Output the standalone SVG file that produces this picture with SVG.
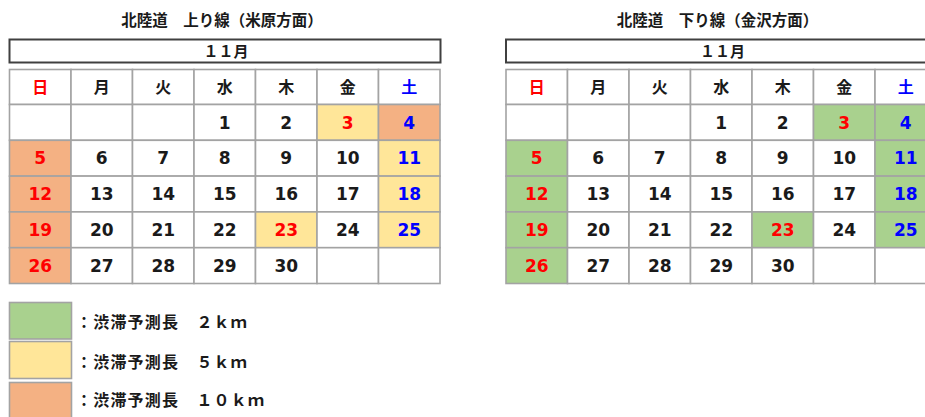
<svg xmlns="http://www.w3.org/2000/svg" width="925" height="417" viewBox="0 0 925 417">
<style>
.bg{fill:#ffffff}
.c{fill:#ffffff;stroke:#a3a3a3;stroke-width:1.6}
.y{fill:#ffe699}
.o{fill:#f4b183}
.g{fill:#a9d18e}
.mb{fill:#ffffff;stroke:#404040;stroke-width:2}
.jp{font-family:"Noto Sans CJK JP","Noto Sans",sans-serif;font-weight:bold;fill:#1a1a1a;text-anchor:middle}
.ttl{font-size:15.5px}
.mon{font-size:15px}
.hd{font-size:16px}
.n{font-family:"DejaVu Sans","Liberation Sans",sans-serif;font-weight:bold;font-size:17px;fill:#1a1a1a;text-anchor:middle}
.r{fill:#ff0000}
.b{fill:#0000ff}
.lg{font-family:"Noto Sans CJK JP","Noto Sans",sans-serif;font-weight:bold;font-size:16px;fill:#1a1a1a;letter-spacing:1.2px}
</style>
<rect class="bg" x="0" y="0" width="925" height="417"/>

<g id="left-calendar">
<text class="jp ttl" x="222" y="25.5">北陸道　上り線（米原方面）</text>
<rect class="mb" x="9.5" y="39.5" width="431" height="23"/>
<text class="jp mon" x="226" y="57">１１月</text>
<g id="left-cells">
<rect class="c" x="9.5" y="69.5" width="61.5" height="35"/>
<rect class="c" x="71" y="69.5" width="61.5" height="35"/>
<rect class="c" x="132.5" y="69.5" width="61.5" height="35"/>
<rect class="c" x="194" y="69.5" width="61.5" height="35"/>
<rect class="c" x="255.5" y="69.5" width="61.5" height="35"/>
<rect class="c" x="317" y="69.5" width="61.5" height="35"/>
<rect class="c" x="378.5" y="69.5" width="61.5" height="35"/>

<rect class="c" x="9.5" y="104.5" width="61.5" height="35.8"/>
<rect class="c" x="71" y="104.5" width="61.5" height="35.8"/>
<rect class="c" x="132.5" y="104.5" width="61.5" height="35.8"/>
<rect class="c" x="194" y="104.5" width="61.5" height="35.8"/>
<rect class="c" x="255.5" y="104.5" width="61.5" height="35.8"/>
<rect class="c y" x="317" y="104.5" width="61.5" height="35.8"/>
<rect class="c o" x="378.5" y="104.5" width="61.5" height="35.8"/>

<rect class="c o" x="9.5" y="140.3" width="61.5" height="35.8"/>
<rect class="c" x="71" y="140.3" width="61.5" height="35.8"/>
<rect class="c" x="132.5" y="140.3" width="61.5" height="35.8"/>
<rect class="c" x="194" y="140.3" width="61.5" height="35.8"/>
<rect class="c" x="255.5" y="140.3" width="61.5" height="35.8"/>
<rect class="c" x="317" y="140.3" width="61.5" height="35.8"/>
<rect class="c y" x="378.5" y="140.3" width="61.5" height="35.8"/>

<rect class="c o" x="9.5" y="176.1" width="61.5" height="35.8"/>
<rect class="c" x="71" y="176.1" width="61.5" height="35.8"/>
<rect class="c" x="132.5" y="176.1" width="61.5" height="35.8"/>
<rect class="c" x="194" y="176.1" width="61.5" height="35.8"/>
<rect class="c" x="255.5" y="176.1" width="61.5" height="35.8"/>
<rect class="c" x="317" y="176.1" width="61.5" height="35.8"/>
<rect class="c y" x="378.5" y="176.1" width="61.5" height="35.8"/>

<rect class="c o" x="9.5" y="211.9" width="61.5" height="35.8"/>
<rect class="c" x="71" y="211.9" width="61.5" height="35.8"/>
<rect class="c" x="132.5" y="211.9" width="61.5" height="35.8"/>
<rect class="c" x="194" y="211.9" width="61.5" height="35.8"/>
<rect class="c y" x="255.5" y="211.9" width="61.5" height="35.8"/>
<rect class="c" x="317" y="211.9" width="61.5" height="35.8"/>
<rect class="c y" x="378.5" y="211.9" width="61.5" height="35.8"/>

<rect class="c o" x="9.5" y="247.7" width="61.5" height="35.8"/>
<rect class="c" x="71" y="247.7" width="61.5" height="35.8"/>
<rect class="c" x="132.5" y="247.7" width="61.5" height="35.8"/>
<rect class="c" x="194" y="247.7" width="61.5" height="35.8"/>
<rect class="c" x="255.5" y="247.7" width="61.5" height="35.8"/>
<rect class="c" x="317" y="247.7" width="61.5" height="35.8"/>
<rect class="c" x="378.5" y="247.7" width="61.5" height="35.8"/>
</g>
<g id="left-labels">
<text class="jp hd r" x="40.25" y="93">日</text>
<text class="jp hd" x="101.75" y="93">月</text>
<text class="jp hd" x="163.25" y="93">火</text>
<text class="jp hd" x="224.75" y="93">水</text>
<text class="jp hd" x="286.25" y="93">木</text>
<text class="jp hd" x="347.75" y="93">金</text>
<text class="jp hd b" x="409.25" y="93">土</text>

<text class="n" x="224.75" y="128.6">1</text>
<text class="n" x="286.25" y="128.6">2</text>
<text class="n r" x="347.75" y="128.6">3</text>
<text class="n b" x="409.25" y="128.6">4</text>

<text class="n r" x="40.25" y="164.4">5</text>
<text class="n" x="101.75" y="164.4">6</text>
<text class="n" x="163.25" y="164.4">7</text>
<text class="n" x="224.75" y="164.4">8</text>
<text class="n" x="286.25" y="164.4">9</text>
<text class="n" x="347.75" y="164.4">10</text>
<text class="n b" x="409.25" y="164.4">11</text>

<text class="n r" x="40.25" y="200.2">12</text>
<text class="n" x="101.75" y="200.2">13</text>
<text class="n" x="163.25" y="200.2">14</text>
<text class="n" x="224.75" y="200.2">15</text>
<text class="n" x="286.25" y="200.2">16</text>
<text class="n" x="347.75" y="200.2">17</text>
<text class="n b" x="409.25" y="200.2">18</text>

<text class="n r" x="40.25" y="236">19</text>
<text class="n" x="101.75" y="236">20</text>
<text class="n" x="163.25" y="236">21</text>
<text class="n" x="224.75" y="236">22</text>
<text class="n r" x="286.25" y="236">23</text>
<text class="n" x="347.75" y="236">24</text>
<text class="n b" x="409.25" y="236">25</text>

<text class="n r" x="40.25" y="271.8">26</text>
<text class="n" x="101.75" y="271.8">27</text>
<text class="n" x="163.25" y="271.8">28</text>
<text class="n" x="224.75" y="271.8">29</text>
<text class="n" x="286.25" y="271.8">30</text>
</g>
</g>

<g id="right-calendar">
<text class="jp ttl" x="717.5" y="25.5">北陸道　下り線（金沢方面）</text>
<rect class="mb" x="506" y="39.5" width="431" height="23"/>
<text class="jp mon" x="722.5" y="57">１１月</text>
<g id="right-cells">
<rect class="c" x="506" y="69.5" width="61.5" height="35"/>
<rect class="c" x="567.5" y="69.5" width="61.5" height="35"/>
<rect class="c" x="629" y="69.5" width="61.5" height="35"/>
<rect class="c" x="690.5" y="69.5" width="61.5" height="35"/>
<rect class="c" x="752" y="69.5" width="61.5" height="35"/>
<rect class="c" x="813.5" y="69.5" width="61.5" height="35"/>
<rect class="c" x="875" y="69.5" width="61.5" height="35"/>

<rect class="c" x="506" y="104.5" width="61.5" height="35.8"/>
<rect class="c" x="567.5" y="104.5" width="61.5" height="35.8"/>
<rect class="c" x="629" y="104.5" width="61.5" height="35.8"/>
<rect class="c" x="690.5" y="104.5" width="61.5" height="35.8"/>
<rect class="c" x="752" y="104.5" width="61.5" height="35.8"/>
<rect class="c g" x="813.5" y="104.5" width="61.5" height="35.8"/>
<rect class="c g" x="875" y="104.5" width="61.5" height="35.8"/>

<rect class="c g" x="506" y="140.3" width="61.5" height="35.8"/>
<rect class="c" x="567.5" y="140.3" width="61.5" height="35.8"/>
<rect class="c" x="629" y="140.3" width="61.5" height="35.8"/>
<rect class="c" x="690.5" y="140.3" width="61.5" height="35.8"/>
<rect class="c" x="752" y="140.3" width="61.5" height="35.8"/>
<rect class="c" x="813.5" y="140.3" width="61.5" height="35.8"/>
<rect class="c g" x="875" y="140.3" width="61.5" height="35.8"/>

<rect class="c g" x="506" y="176.1" width="61.5" height="35.8"/>
<rect class="c" x="567.5" y="176.1" width="61.5" height="35.8"/>
<rect class="c" x="629" y="176.1" width="61.5" height="35.8"/>
<rect class="c" x="690.5" y="176.1" width="61.5" height="35.8"/>
<rect class="c" x="752" y="176.1" width="61.5" height="35.8"/>
<rect class="c" x="813.5" y="176.1" width="61.5" height="35.8"/>
<rect class="c g" x="875" y="176.1" width="61.5" height="35.8"/>

<rect class="c g" x="506" y="211.9" width="61.5" height="35.8"/>
<rect class="c" x="567.5" y="211.9" width="61.5" height="35.8"/>
<rect class="c" x="629" y="211.9" width="61.5" height="35.8"/>
<rect class="c" x="690.5" y="211.9" width="61.5" height="35.8"/>
<rect class="c g" x="752" y="211.9" width="61.5" height="35.8"/>
<rect class="c" x="813.5" y="211.9" width="61.5" height="35.8"/>
<rect class="c g" x="875" y="211.9" width="61.5" height="35.8"/>

<rect class="c g" x="506" y="247.7" width="61.5" height="35.8"/>
<rect class="c" x="567.5" y="247.7" width="61.5" height="35.8"/>
<rect class="c" x="629" y="247.7" width="61.5" height="35.8"/>
<rect class="c" x="690.5" y="247.7" width="61.5" height="35.8"/>
<rect class="c" x="752" y="247.7" width="61.5" height="35.8"/>
<rect class="c" x="813.5" y="247.7" width="61.5" height="35.8"/>
<rect class="c" x="875" y="247.7" width="61.5" height="35.8"/>
</g>
<g id="right-labels">
<text class="jp hd r" x="536.75" y="93">日</text>
<text class="jp hd" x="598.25" y="93">月</text>
<text class="jp hd" x="659.75" y="93">火</text>
<text class="jp hd" x="721.25" y="93">水</text>
<text class="jp hd" x="782.75" y="93">木</text>
<text class="jp hd" x="844.25" y="93">金</text>
<text class="jp hd b" x="905.75" y="93">土</text>

<text class="n" x="721.25" y="128.6">1</text>
<text class="n" x="782.75" y="128.6">2</text>
<text class="n r" x="844.25" y="128.6">3</text>
<text class="n b" x="905.75" y="128.6">4</text>

<text class="n r" x="536.75" y="164.4">5</text>
<text class="n" x="598.25" y="164.4">6</text>
<text class="n" x="659.75" y="164.4">7</text>
<text class="n" x="721.25" y="164.4">8</text>
<text class="n" x="782.75" y="164.4">9</text>
<text class="n" x="844.25" y="164.4">10</text>
<text class="n b" x="905.75" y="164.4">11</text>

<text class="n r" x="536.75" y="200.2">12</text>
<text class="n" x="598.25" y="200.2">13</text>
<text class="n" x="659.75" y="200.2">14</text>
<text class="n" x="721.25" y="200.2">15</text>
<text class="n" x="782.75" y="200.2">16</text>
<text class="n" x="844.25" y="200.2">17</text>
<text class="n b" x="905.75" y="200.2">18</text>

<text class="n r" x="536.75" y="236">19</text>
<text class="n" x="598.25" y="236">20</text>
<text class="n" x="659.75" y="236">21</text>
<text class="n" x="721.25" y="236">22</text>
<text class="n r" x="782.75" y="236">23</text>
<text class="n" x="844.25" y="236">24</text>
<text class="n b" x="905.75" y="236">25</text>

<text class="n r" x="536.75" y="271.8">26</text>
<text class="n" x="598.25" y="271.8">27</text>
<text class="n" x="659.75" y="271.8">28</text>
<text class="n" x="721.25" y="271.8">29</text>
<text class="n" x="782.75" y="271.8">30</text>
</g>
</g>

<g id="legend-2km">
<rect class="c g" x="9.5" y="302.5" width="62" height="36.5"/>
<text class="lg" x="76" y="327.7">：渋滞予測長　２ｋｍ</text>
</g>
<g id="legend-5km">
<rect class="c y" x="9.5" y="341.5" width="62" height="37"/>
<text class="lg" x="76" y="367.5">：渋滞予測長　５ｋｍ</text>
</g>
<g id="legend-10km">
<rect class="c o" x="9.5" y="382.5" width="62" height="40"/>
<text class="lg" x="76" y="406">：渋滞予測長　１０ｋｍ</text>
</g>
</svg>
